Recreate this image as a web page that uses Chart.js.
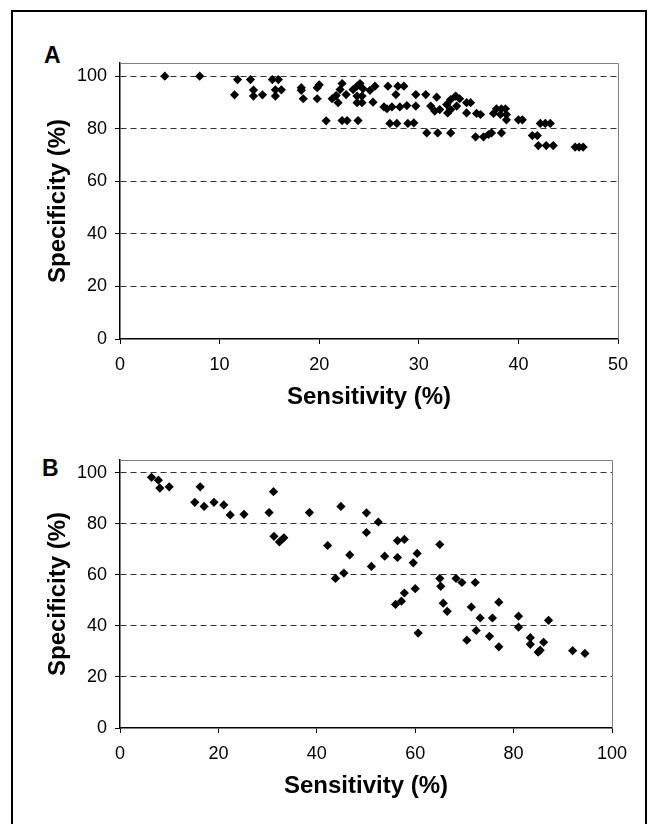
<!DOCTYPE html>
<html><head><meta charset="utf-8">
<script src="https://cdn.jsdelivr.net/npm/chart.js@4/dist/chart.umd.min.js"></script>
<style>
html,body{margin:0;padding:0;background:#fff;}
body{width:657px;height:824px;position:relative;overflow:hidden;font-family:"Liberation Sans",Arial,sans-serif;}
#frame{position:absolute;left:11px;top:10px;width:636px;height:840px;border:2px solid #000;box-sizing:border-box;}
.lbl{position:absolute;font-weight:bold;font-size:23px;line-height:23px;color:#000;}
#wa{position:absolute;left:0;top:0;width:657px;height:420px;}
#wb{position:absolute;left:0;top:400px;width:657px;height:424px;}
</style></head><body>
<div id="frame"></div>
<div class="lbl" style="left:44px;top:44px">A</div>
<div class="lbl" style="left:42px;top:457px">B</div>
<div id="wa"><canvas id="ca"></canvas></div>
<div id="wb"><canvas id="cb"></canvas></div>
<script>
// Panel A data
const sensA = [4.5,8.0,11.8,13.1,11.5,13.4,13.4,14.3,15.3,15.9,15.6,16.2,15.6,18.2,18.2,18.4,19.8,20.0,19.8,20.7,
  22.3,22.1,21.7,21.3,22.7,21.9,22.3,22.8,23.9,23.4,23.8,24.1,24.4,23.8,24.3,23.8,24.3,25.1,25.6,25.4,
  26.5,26.9,26.8,27.3,27.7,27.9,28.5,28.1,28.8,29.7,29.7,27.1,27.8,28.9,29.5,30.7,31.2,31.8,31.6,30.8,
  31.9,33.2,32.1,32.8,33.2,33.7,32.9,33.2,33.8,34.1,34.8,35.2,34.8,35.8,36.2,35.7,36.5,37.0,37.3,38.3,
  37.5,37.8,38.3,38.7,38.2,38.8,38.8,40.0,40.4,41.4,41.9,42.2,42.7,43.2,42.0,42.8,43.5,45.7,46.1,46.5];
const specA = [100,100,98.7,98.7,92.9,94.7,92.4,92.9,98.7,98.7,94.8,94.8,92.4,95.6,94.6,91.4,91.4,96.7,95.6,83.0,
  97.2,94.9,92.6,91.4,93.0,89.9,83.1,83.1,83.1,94.9,96.2,97.2,95.2,92.4,92.4,89.9,89.9,94.6,96.2,90.1,
  88.3,96.2,87.6,88.3,93.0,96.2,96.2,88.3,88.8,93.0,88.6,82.0,82.0,82.0,82.2,93.0,88.6,92.0,86.7,78.4,
  78.4,78.4,87.3,89.2,91.1,92.4,86.0,87.3,88.6,91.4,89.9,89.9,86.0,85.8,85.4,76.9,76.9,77.8,78.4,78.4,
  85.8,87.6,87.6,87.6,85.4,85.4,83.4,83.4,83.4,77.4,77.4,82.0,82.0,82.0,73.6,73.6,73.6,73.0,73.0,73.0];
// Panel B data
const sensB = [6.4,7.8,8.1,10.0,16.3,15.2,17.1,19.1,21.1,22.4,25.2,30.3,31.2,38.5,31.3,32.4,33.3,42.2,44.9,50.1,
  52.5,50.1,46.7,43.8,45.5,51.1,53.8,56.4,57.8,56.4,60.4,59.6,65.0,65.0,65.2,68.3,69.5,72.2,60.0,57.8,
  57.2,56.0,65.7,66.5,71.4,77.0,60.6,73.2,75.7,72.4,70.5,75.1,77.0,81.0,81.0,83.4,83.4,86.1,85.4,85.0,
  87.1,92.0,94.5];
const specB = [98.2,97.1,94.0,94.5,94.5,88.4,86.8,88.4,87.4,83.5,83.7,84.4,92.6,84.4,75.1,72.9,74.5,71.5,86.8,84.3,
  80.7,76.6,67.8,58.6,60.7,63.3,67.3,73.4,73.9,66.8,68.4,64.7,71.9,58.6,55.5,58.6,57.0,57.0,54.6,52.9,
  49.7,48.4,48.9,45.7,47.4,49.3,37.2,43.1,43.1,38.2,34.4,35.9,31.8,43.8,39.5,35.4,32.8,33.6,30.5,29.7,
  42.2,30.3,29.2];
// Tick values
const xTicksA = [0,10,20,30,40,50];
const xTicksB = [0,20,40,60,80,100];
const yTicks = [0,20,40,60,80,100];

Chart.defaults.font.family = '"Liberation Sans", Arial, sans-serif';
Chart.defaults.color = '#000';

const framePlugin = {
  id: 'plotFrame',
  afterDraw(c) {
    const a = c.chartArea, g = c.ctx;
    g.save();
    g.strokeStyle = '#7f7f7f';
    g.lineWidth = 1;
    g.beginPath();
    g.moveTo(a.left, Math.round(a.top) + 0.5);
    g.lineTo(Math.round(a.right) + 0.5, Math.round(a.top) + 0.5);
    g.lineTo(Math.round(a.right) + 0.5, a.bottom);
    g.stroke();
    g.restore();
  }
};

function makeChart(id, sens, spec, xTicks, pad, xAxisH, titleBottom) {
  return new Chart(document.getElementById(id), {
    type: 'scatter',
    data: { datasets: [{
      data: sens.map((s, i) => ({ x: s, y: spec[i] })),
      pointStyle: 'rectRot', pointRadius: 4.6, pointHoverRadius: 4.6,
      backgroundColor: '#000', borderColor: '#000', borderWidth: 0
    }]},
    options: {
      responsive: true, maintainAspectRatio: false, animation: false, events: [],
      layout: { padding: pad },
      plugins: { legend: { display: false }, tooltip: { enabled: false } },
      scales: {
        x: {
          type: 'linear', min: xTicks[0], max: xTicks[xTicks.length - 1],
          afterBuildTicks: s => { s.ticks = xTicks.map(v => ({ value: v })); },
          ticks: { color: '#000', font: { size: 18 }, padding: 10, maxRotation: 0, autoSkip: false },
          grid: { drawOnChartArea: false, drawTicks: true, tickLength: 5, tickColor: '#000' },
          border: { color: '#000', width: 1.5 },
          title: { display: true, text: 'Sensitivity (%)', color: '#000',
                   font: { size: 24, weight: 'bold' }, padding: { top: 0, bottom: titleBottom } },
          afterFit: s => { s.height = xAxisH; }
        },
        y: {
          type: 'linear', min: 0, max: 105,
          afterBuildTicks: s => { s.ticks = yTicks.map(v => ({ value: v })); },
          ticks: { color: '#000', font: { size: 18 }, padding: 8, autoSkip: false },
          grid: { color: c => (c.tick && c.tick.value === 0) ? 'rgba(0,0,0,0)' : '#333',
                  lineWidth: 1, drawTicks: true, tickLength: 5, tickColor: '#000' },
          border: { color: '#000', width: 1.5, dash: [6, 4] },
          title: { display: true, text: 'Specificity (%)', color: '#000',
                   font: { size: 24, weight: 'bold' }, padding: { top: 43.6, bottom: 0 } },
          afterFit: s => { s.width = 120; }
        }
      }
    },
    plugins: [framePlugin]
  });
}

makeChart('ca', sensA, specA, xTicksA, { left: 0, top: 63, right: 39, bottom: 0 }, 81, 8.6);
makeChart('cb', sensB, specB, xTicksB, { left: 0, top: 60, right: 45, bottom: 0 }, 96, 23.6);
</script>
</body></html>
